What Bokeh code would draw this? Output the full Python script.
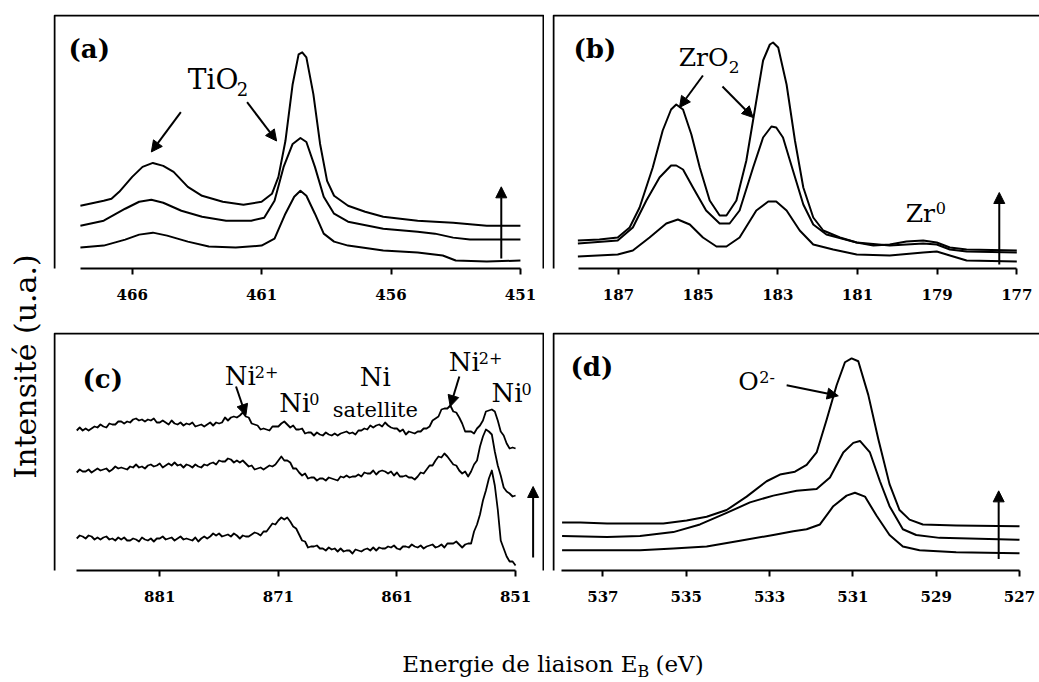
import math
from bokeh.plotting import figure
from bokeh.models import Range1d, FixedTicker, BoxAnnotation, Arrow, NormalHead, Spacer
from bokeh.layouts import row, column
from bokeh.embed import file_html
from bokeh.resources import INLINE
from bokeh.core.properties import value

FONT = "DejaVu Serif"
BASELINE_FIX = 0.33   # renderer places alphabetic baselines slightly low; lift by this fraction of the font size

# ---------------- data (binding energy in eV, intensity in a.u.) ----------------
ticks_a = [466, 461, 456, 451]
ticks_b = [187, 185, 183, 181, 179, 177]
ticks_c = [881, 871, 861, 851]
ticks_d = [537, 535, 533, 531, 529, 527]

# (a) Ti 2p
xa_top = [468.0, 467.1, 466.8, 466.5, 466.0, 465.6, 465.2, 464.8, 464.4, 463.85, 463.3, 462.5, 461.7, 461.0,
          460.6, 460.35, 460.08, 459.8, 459.57, 459.43, 459.27, 459.0, 458.74, 458.47, 458.2, 457.66, 457.0,
          456.3, 455.64, 454.97, 454.3, 453.6, 452.3, 451.0]
ya_top = [63, 68, 70, 77, 92, 102, 106, 103, 97, 82, 73, 67, 64, 67, 75, 92, 128, 185, 215, 217, 212, 175, 125,
          88, 73, 63, 57, 52, 50, 48, 47, 46, 43, 43]
xa_mid = [468.0, 467.1, 466.27, 465.73, 465.26, 464.8, 464.1, 463.3, 462.37, 461.4, 460.9, 460.5, 460.15, 459.8,
          459.5, 459.27, 458.94, 458.6, 458.2, 457.66, 456.3, 454.97, 454.3, 453.6, 452.95, 451.0]
ya_mid = [43, 48, 60, 67, 69, 66, 58, 52, 48, 48, 51, 68, 102, 125, 131, 127, 102, 72, 55, 47, 40, 37, 35, 31, 29, 29]
xa_bot = [468.0, 467.1, 466.27, 465.73, 465.2, 464.65, 463.85, 463.04, 462.0, 461.0, 460.5, 460.08, 459.74, 459.5,
          459.27, 458.94, 458.6, 458.2, 457.66, 456.3, 454.97, 454.0, 453.5, 452.3, 451.0]
ya_bot = [21, 23, 29, 34, 36, 33, 27, 22, 21, 23, 30, 55, 72, 78, 73, 55, 35, 27, 23, 18, 16, 13, 8, 7, 8]

# (b) Zr 3d
xb_top = [188.02, 187.48, 187.02, 186.72, 186.47, 186.14, 185.89, 185.68, 185.55, 185.38, 185.17, 184.96, 184.71,
          184.46, 184.29, 184.04, 183.79, 183.58, 183.37, 183.2, 183.12, 182.99, 182.78, 182.57, 182.36, 182.11,
          181.86, 181.44, 181.02, 180.6, 180.19, 179.77, 179.35, 179.01, 178.68, 178.26, 177.0]
yb_top = [28, 29, 31, 41, 61, 101, 138, 159, 164, 159, 134, 101, 68, 53, 53, 68, 108, 158, 208, 224, 226, 221, 184,
          128, 81, 51, 38, 31, 26, 23, 24, 27, 28, 26, 21, 19, 18]
xb_mid = [188.02, 187.02, 186.64, 186.3, 185.97, 185.68, 185.55, 185.38, 185.13, 184.8, 184.46, 184.21, 183.96,
          183.62, 183.37, 183.16, 183.04, 182.87, 182.62, 182.36, 182.11, 181.78, 181.02, 180.19, 179.35, 179.01,
          178.68, 178.26, 177.0]
yb_mid = [25, 28, 41, 68, 91, 103, 103, 99, 81, 58, 45, 45, 58, 101, 131, 142, 141, 131, 98, 64, 44, 34, 26, 23, 25,
          24, 19, 17, 16]
xb_bot = [188.02, 187.02, 186.64, 186.22, 185.8, 185.51, 185.21, 184.88, 184.54, 184.29, 183.96, 183.54, 183.24,
          183.04, 182.78, 182.45, 182.11, 181.61, 181.02, 180.19, 179.35, 179.01, 178.68, 178.26, 177.0]
yb_bot = [12, 14, 18, 31, 45, 49, 44, 31, 22, 22, 31, 58, 67, 67, 58, 38, 24, 19, 14, 13, 16, 17, 13, 8, 7]

# (c) Ni 2p (noisy spectra, read every 0.25 eV)
xc = [888.0, 887.75, 887.5, 887.25, 887.0, 886.75, 886.5, 886.25, 886.0, 885.75, 885.5, 885.25,
      885.0, 884.75, 884.5, 884.25, 884.0, 883.75, 883.5, 883.25, 883.0, 882.75, 882.5, 882.25,
      882.0, 881.75, 881.5, 881.25, 881.0, 880.75, 880.5, 880.25, 880.0, 879.75, 879.5, 879.25,
      879.0, 878.75, 878.5, 878.25, 878.0, 877.75, 877.5, 877.25, 877.0, 876.75, 876.5, 876.25,
      876.0, 875.75, 875.5, 875.25, 875.0, 874.75, 874.5, 874.25, 874.0, 873.75, 873.5, 873.25,
      873.0, 872.75, 872.5, 872.25, 872.0, 871.75, 871.5, 871.25, 871.0, 870.75, 870.5, 870.25,
      870.0, 869.75, 869.5, 869.25, 869.0, 868.75, 868.5, 868.25, 868.0, 867.75, 867.5, 867.25,
      867.0, 866.75, 866.5, 866.25, 866.0, 865.75, 865.5, 865.25, 865.0, 864.75, 864.5, 864.25,
      864.0, 863.75, 863.5, 863.25, 863.0, 862.75, 862.5, 862.25, 862.0, 861.75, 861.5, 861.25,
      861.0, 860.75, 860.5, 860.25, 860.0, 859.75, 859.5, 859.25, 859.0, 858.75, 858.5, 858.25,
      858.0, 857.75, 857.5, 857.25, 857.0, 856.75, 856.5, 856.25, 856.0, 855.75, 855.5, 855.25,
      855.0, 854.75, 854.5, 854.25, 854.0, 853.75, 853.5, 853.25, 853.0, 852.75, 852.5, 852.25,
      852.0, 851.75, 851.5, 851.25, 851.0]
yc_top = [140, 143, 140, 142, 140, 142, 144, 143, 146, 144, 143, 147,
          146, 146, 149, 149, 147, 149, 148, 151, 152, 150, 151, 149,
          151, 150, 152, 148, 148, 150, 148, 146, 150, 147, 146, 148,
          145, 147, 146, 148, 144, 145, 146, 144, 146, 148, 145, 148,
          147, 148, 153, 150, 153, 154, 153, 155, 158, 154, 153, 147,
          146, 145, 141, 142, 141, 140, 144, 144, 144, 147, 149, 146,
          143, 145, 141, 141, 142, 137, 138, 138, 135, 138, 136, 135,
          138, 136, 135, 137, 135, 137, 138, 139, 137, 138, 136, 140,
          140, 142, 141, 145, 143, 145, 146, 144, 148, 145, 143, 142,
          142, 139, 141, 136, 139, 138, 137, 139, 139, 142, 142, 144,
          150, 152, 154, 161, 162, 162, 165, 159, 158, 153, 147, 139,
          139, 139, 137, 142, 145, 150, 159, 160, 161, 159, 150, 139,
          135, 127, 122, 123, 122]
yc_mid = [98, 101, 99, 99, 101, 98, 100, 102, 100, 101, 102, 99,
          101, 104, 102, 103, 102, 101, 104, 103, 106, 103, 104, 102,
          105, 106, 104, 105, 107, 103, 105, 107, 105, 108, 105, 106,
          103, 106, 105, 103, 106, 104, 103, 106, 105, 107, 108, 106,
          110, 109, 109, 112, 111, 108, 110, 108, 110, 107, 104, 105,
          101, 102, 103, 101, 103, 105, 104, 106, 110, 114, 110, 110,
          108, 102, 102, 98, 95, 97, 92, 93, 93, 90, 92, 92,
          90, 93, 92, 91, 90, 94, 93, 95, 93, 94, 94, 96,
          94, 98, 97, 97, 100, 96, 99, 100, 99, 97, 99, 95,
          98, 94, 94, 95, 93, 93, 91, 94, 98, 97, 101, 105,
          105, 110, 114, 113, 117, 114, 110, 106, 105, 100, 97, 99,
          94, 99, 106, 110, 124, 134, 141, 139, 136, 119, 105, 95,
          83, 79, 77, 74, 75]
yc_bot = [32, 35, 34, 32, 35, 34, 31, 33, 31, 33, 34, 31,
          32, 30, 33, 31, 33, 30, 30, 32, 31, 29, 33, 31,
          30, 32, 29, 32, 32, 34, 31, 32, 33, 30, 32, 34,
          31, 32, 31, 30, 33, 29, 32, 34, 32, 34, 37, 35,
          37, 34, 35, 36, 34, 37, 35, 32, 35, 34, 34, 36,
          38, 37, 35, 39, 39, 43, 47, 46, 50, 53, 51, 53,
          49, 44, 42, 36, 30, 29, 23, 24, 24, 25, 22, 22,
          20, 23, 21, 22, 19, 22, 19, 20, 20, 17, 21, 20,
          19, 21, 22, 20, 23, 20, 23, 22, 22, 24, 23, 25,
          22, 21, 24, 24, 23, 26, 24, 23, 25, 22, 24, 25,
          26, 23, 24, 26, 23, 27, 27, 27, 29, 26, 23, 26,
          27, 27, 39, 46, 56, 70, 80, 92, 100, 85, 61, 30,
          22, 14, 9, 9, 5]

# (d) O 1s
xd_top = [537.98, 537.54, 536.9, 536.11, 535.55, 534.99, 534.51, 534.03, 533.55, 533.07, 532.75, 532.39, 532.11,
          531.87, 531.63, 531.39, 531.19, 531.03, 530.87, 530.63, 530.39, 530.12, 529.88, 529.64, 529.32, 528.52,
          527.0]
yd_top = [50, 50, 49, 49, 49, 52, 56, 63, 77, 93, 100, 103, 110, 123, 157, 193, 217, 221, 218, 183, 137, 90, 63,
          53, 48, 47, 46]
xd_mid = [537.98, 536.9, 536.11, 535.31, 534.67, 534.03, 533.47, 532.91, 532.35, 531.87, 531.55, 531.23, 530.99,
          530.83, 530.59, 530.35, 530.12, 529.8, 529.48, 528.92, 527.0]
yd_mid = [36, 35, 36, 40, 48, 60, 71, 78, 83, 85, 97, 123, 133, 135, 123, 93, 67, 43, 37, 34, 32]
xd_bot = [537.98, 536.9, 536.11, 535.31, 534.51, 533.71, 532.91, 532.43, 532.11, 531.79, 531.47, 531.15, 530.95,
          530.71, 530.43, 530.12, 529.8, 529.4, 528.52, 527.0]
yd_bot = [21, 21, 21, 23, 25, 31, 37, 41, 43, 48, 67, 78, 81, 77, 57, 37, 25, 21, 19, 18]

# annotation arrows (x_start, y_start, x_end, y_end) in data units
arrows_a = [(464.12, 157, 465.26, 117), (461.56, 167, 460.42, 128), (451.74, 10, 451.74, 82)]
arrows_b = [(184.88, 193, 185.47, 161), (184.39, 182, 183.62, 151), (177.44, 4, 177.44, 76)]
arrows_c = [(874.57, 184, 873.74, 155), (855.74, 194, 856.51, 164), (849.52, 13, 849.52, 84)]
arrows_d = [(532.59, 193, 531.35, 182), (527.5, 12, 527.5, 83)]

# text labels: (x, baseline y, text, size px, bold, align, x_offset px)
texts_a = [(468.46, 212, "(a)", 26, True, "left", 0),
           (463.85, 181, "TiO", 28, False, "left", 0),
           (463.85, 174, "2", 18, False, "left", 49)]
texts_b = [(188.13, 211, "(b)", 26, True, "left", 0),
           (185.49, 203, "ZrO", 25, False, "left", 0),
           (185.49, 196, "2", 17, False, "left", 50)]
texts_b += [(179.79, 47, "Zr", 25, False, "left", 0),
            (179.79, 55, "0", 16, False, "left", 30)]
texts_c = [(887.51, 183, "(c)", 26, True, "left", 0),
           (875.52, 186, "Ni", 26, False, "left", 0),
           (875.52, 193, "2+", 16, False, "left", 30),
           (870.93, 159, "Ni", 26, False, "left", 0),
           (870.93, 166, "0", 16, False, "left", 30),
           (862.82, 185, "Ni", 26, False, "center", 0),
           (862.82, 154, "satellite", 21, False, "center", 0),
           (856.63, 200, "Ni", 26, False, "left", 0),
           (856.63, 207, "2+", 16, False, "left", 30),
           (853.02, 169, "Ni", 26, False, "left", 0),
           (853.02, 176, "0", 16, False, "left", 30)]
texts_d = [(537.78, 203, "(d)", 26, True, "left", 0),
           (533.75, 189, "O", 25, False, "left", 0),
           (533.75, 196, "2-", 16, False, "left", 21)]


def make_panel(w, h, frame_h, xr, ticks, bounds, box_bottom, open_right):
    p = figure(width=w, height=h, output_backend="svg", toolbar_location=None,
               x_range=Range1d(xr[0], xr[1]), y_range=Range1d(0, frame_h),
               y_axis_location=None, min_border_left=0, min_border_right=0,
               min_border_top=0, min_border_bottom=h - frame_h)
    p.grid.visible = False
    p.outline_line_color = None
    ax = p.xaxis[0]
    ax.ticker = FixedTicker(ticks=ticks)
    ax.bounds = bounds
    ax.axis_line_width = 2
    ax.axis_line_color = "black"
    ax.major_tick_line_width = 2
    ax.major_tick_line_color = "black"
    ax.major_tick_out = 6
    ax.major_tick_in = 0
    ax.minor_tick_out = 0
    ax.minor_tick_in = 0
    ax.major_label_text_font = FONT
    ax.major_label_text_font_style = "bold"
    ax.major_label_text_font_size = "15px"
    ax.major_label_text_color = "black"
    ax.major_label_standoff = 14
    box = BoxAnnotation(left=1, right=(w + 10) if open_right else (w - 1), top=1, bottom=box_bottom,
                        left_units="canvas", right_units="canvas", top_units="canvas", bottom_units="canvas",
                        fill_color=None, fill_alpha=0, line_color="black", line_width=2, line_alpha=1)
    p.add_layout(box)
    return p


def add_curves(p, series, lw=2):
    for xs, ys in series:
        p.line(xs, ys, line_color="black", line_width=lw, line_join="round")


def add_arrows(p, arrows):
    for x0, y0, x1, y1 in arrows:
        p.add_layout(Arrow(x_start=x0, y_start=y0, x_end=x1, y_end=y1, line_color="black", line_width=2,
                           end=NormalHead(size=11, fill_color="black", line_color="black", line_width=1)))


def add_texts(p, texts):
    for x, y, s, size, bold, align, xoff in texts:
        p.text(x=[x], y=[y + BASELINE_FIX * size], text=[s], text_font=value(FONT), text_font_size=f"{size}px",
               text_font_style="bold" if bold else "normal", text_align=align,
               text_baseline="alphabetic", x_offset=xoff, text_color="black")


pa = make_panel(491, 307, 255, (469.04, 450.07), ticks_a, (451, 468), 306, False)
add_curves(pa, [(xa_top, ya_top), (xa_mid, ya_mid), (xa_bot, ya_bot)])
add_arrows(pa, arrows_a)
add_texts(pa, texts_a)

pb = make_panel(487, 307, 254, (188.657, 176.43), ticks_b, (177, 188), 305, True)
add_curves(pb, [(xb_top, yb_top), (xb_mid, yb_mid), (xb_bot, yb_bot)])
add_arrows(pb, arrows_b)
add_texts(pb, texts_b)

pc = make_panel(491, 307, 238, (889.96, 848.56), ticks_c, (851, 888), 306, False)
add_curves(pc, [(xc, yc_top), (xc, yc_mid), (xc, yc_bot)], lw=1.8)
add_arrows(pc, arrows_c)
add_texts(pc, texts_c)

pd = make_panel(487, 307, 248, (538.21, 526.52), ticks_d, (527, 538), 302, True)
add_curves(pd, [(xd_top, yd_top), (xd_mid, yd_mid), (xd_bot, yd_bot)])
add_arrows(pd, arrows_d)
add_texts(pd, texts_d)

# y axis title
ylab = figure(width=53, height=682, output_backend="svg", toolbar_location=None,
              x_range=Range1d(0, 53), y_range=Range1d(0, 682), x_axis_location=None, y_axis_location=None,
              min_border=0)
ylab.grid.visible = False
ylab.outline_line_color = None
ylab.text(x=[25], y=[316], text=["Intensité (u.a.)"], angle=math.pi / 2, text_font=value(FONT),
          text_font_size="30px", text_align="center", text_baseline="middle", text_color="black")

# x axis title
xlab = figure(width=986, height=43, output_backend="svg", toolbar_location=None,
              x_range=Range1d(0, 986), y_range=Range1d(0, 43), x_axis_location=None, y_axis_location=None,
              min_border=0)
xlab.grid.visible = False
xlab.outline_line_color = None
xlab_texts = [(584, 11, "Energie de liaison E", 23, "right", 0),
              (584, 6, "B", 16, "left", 0),
              (584, 11, "(eV)", 23, "left", 18)]
for x, y, s, size, align, xoff in xlab_texts:
    xlab.text(x=[x], y=[y + BASELINE_FIX * size], text=[s], text_font=value(FONT), text_font_size=f"{size}px",
              text_align=align, text_baseline="alphabetic", x_offset=xoff, text_color="black")

grid = column(Spacer(width=986, height=14),
              row(pa, Spacer(width=8, height=307), pb),
              Spacer(width=986, height=11),
              row(pc, Spacer(width=8, height=307), pd),
              xlab)
layout = row(ylab, grid)

open("out.html", "w").write(file_html(layout, INLINE))
